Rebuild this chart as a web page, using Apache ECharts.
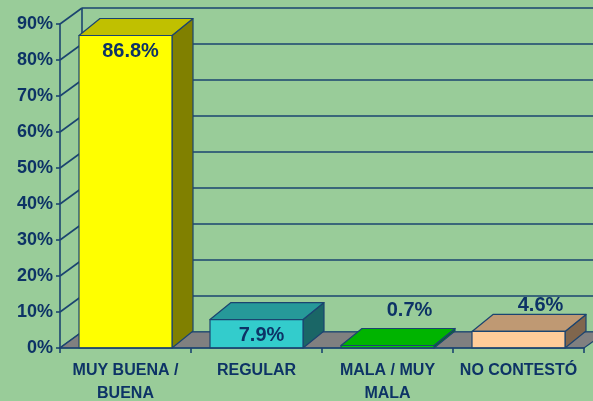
<!DOCTYPE html>
<html>
<head>
<meta charset="utf-8">
<script src="https://cdn.jsdelivr.net/npm/echarts@6/dist/echarts.min.js"></script>
<style>
html,body{margin:0;padding:0;background:#99CC99;}
#chart{width:593px;height:401px;}
</style>
</head>
<body>
<div id="chart"></div>
<script>
const categories = ['MUY BUENA /\nBUENA', 'REGULAR', 'MALA / MUY\nMALA', 'NO CONTESTÓ'];
const values = [86.8, 7.9, 0.7, 4.6];
const yTicks = [0, 10, 20, 30, 40, 50, 60, 70, 80, 90];

const NAVY = '#0d3366';
const LINE = '#1b4470';
const FONT = '"Liberation Sans", Arial, sans-serif';
const barColors = [
  {front: '#FFFF00', top: '#C0C000', side: '#808000'},
  {front: '#33CCCC', top: '#269999', side: '#1A6666'},
  {front: '#00CC00', top: '#00B400', side: '#008000'},
  {front: '#FFCC99', top: '#BF9973', side: '#80664D'}
];
const WDX = 22, WDY = -16;   // wall depth offset
const BDX = 21, BDY = -17;   // bar depth offset

const chart = echarts.init(document.getElementById('chart'));

function wallItem(params, api) {
  const cs = params.coordSys;
  const t = api.value(1);
  const p = api.coord([0, t]);
  const y = p[1];
  const x0 = cs.x, x1 = cs.x + cs.width;
  const children = [];
  children.push({type: 'line', shape: {x1: x0 + WDX, y1: y + WDY, x2: x1 + WDX + 20, y2: y + WDY},
    style: {stroke: LINE, lineWidth: 1.6}});
  children.push({type: 'line', shape: {x1: x0, y1: y, x2: x0 + WDX, y2: y + WDY},
    style: {stroke: LINE, lineWidth: 1.6}});
  if (params.dataIndex === 0) {
    const base = y;
    const top = cs.y;
    children.push({type: 'line', shape: {x1: x0 + WDX, y1: top + WDY, x2: x0 + WDX, y2: base + WDY},
      style: {stroke: LINE, lineWidth: 1.6}});
    children.push({type: 'polygon', shape: {points: [[x0, base], [x1, base], [x1 + WDX, base + WDY], [x0 + WDX, base + WDY]]},
      style: {fill: '#808080', stroke: LINE, lineWidth: 1.2}, z2: 5});
  }
  return {type: 'group', children: children};
}

function barItem(params, api) {
  const i = params.dataIndex;
  const v = api.value(1);
  const top = api.coord([i, v]);
  const base = api.coord([i, 0]);
  const band = api.size([1, 0])[0];
  const w = band * 0.71;
  const x0 = top[0] - w / 2, x1 = top[0] + w / 2;
  const yt = top[1], yb = base[1];
  const c = barColors[i];
  const st = {stroke: LINE, lineWidth: 1.2, lineJoin: 'round'};
  const children = [
    {type: 'polygon', shape: {points: [[x1, yt], [x1 + BDX, yt + BDY], [x1 + BDX, yb + BDY], [x1, yb]]},
      style: Object.assign({fill: c.side}, st)},
    {type: 'polygon', shape: {points: [[x0, yt], [x1, yt], [x1 + BDX, yt + BDY], [x0 + BDX, yt + BDY]]},
      style: Object.assign({fill: c.top}, st)},
    {type: 'rect', shape: {x: x0, y: yt, width: w, height: yb - yt},
      style: Object.assign({fill: c.front}, st)}
  ];
  const inside = v > 5;
  const lx = inside ? top[0] + 5 : top[0] + 22;
  const ly = inside ? yt + 16 : Math.min(yt - 26, base[1] - 38);
  children.push({type: 'text', x: lx, y: ly, z2: 20,
    style: {text: v.toFixed(1) + '%', fill: NAVY, font: 'bold 20px ' + FONT, align: 'center', verticalAlign: 'middle'}});
  return {type: 'group', children: children};
}

chart.setOption({
  backgroundColor: '#99CC99',
  animation: false,
  grid: {left: 60, right: 9, top: 24, bottom: 53, containLabel: false, outerBoundsMode: 'none'},
  xAxis: {
    type: 'category',
    data: categories,
    boundaryGap: true,
    axisLine: {show: true, lineStyle: {color: LINE, width: 1.6}},
    axisTick: {show: true, length: 5, alignWithLabel: false, lineStyle: {color: LINE, width: 1.6}},
    axisLabel: {color: NAVY, fontFamily: FONT, fontWeight: 'bold', fontSize: 16, lineHeight: 23, margin: 11, interval: 0},
    z: 10
  },
  yAxis: {
    type: 'value',
    min: 0, max: 90, interval: 10,
    axisLine: {show: true, lineStyle: {color: LINE, width: 1.6}},
    axisTick: {show: true, length: 4, lineStyle: {color: LINE, width: 1.6}},
    axisLabel: {color: NAVY, fontFamily: FONT, fontWeight: 'bold', fontSize: 18, margin: 7, formatter: '{value}%'},
    splitLine: {show: false}
  },
  series: [
    {
      type: 'custom',
      renderItem: wallItem,
      data: yTicks.map(t => [0, t]),
      encode: {x: 0, y: 1},
      clip: false,
      silent: true,
      z: 1
    },
    {
      type: 'custom',
      renderItem: barItem,
      data: values.map((v, i) => [i, v]),
      encode: {x: 0, y: 1},
      clip: false,
      z: 3
    }
  ]
});
</script>
</body>
</html>
